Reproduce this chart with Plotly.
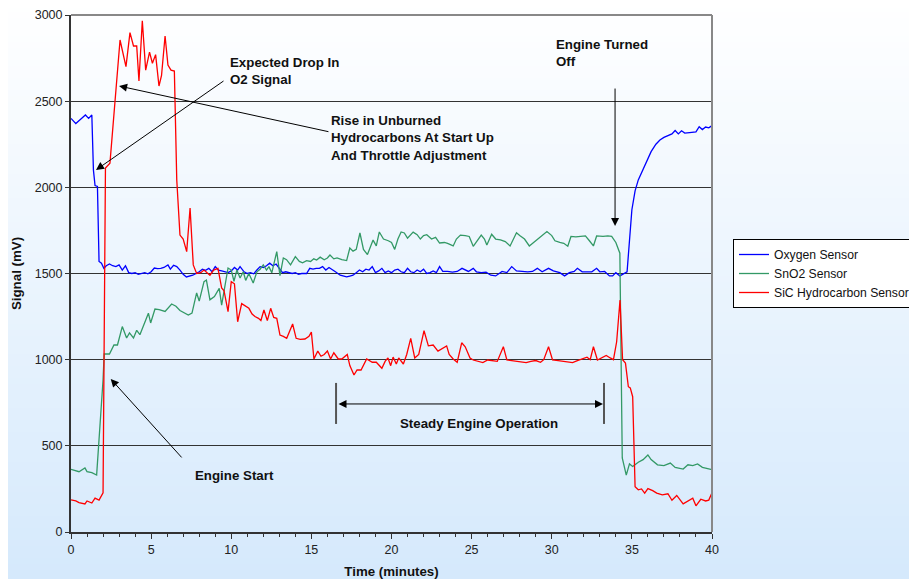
import plotly.graph_objects as go

# ---------------- data ----------------
t_oxy = [0, 0.3, 0.6, 0.9, 1.1, 1.3, 1.4, 1.5, 1.65, 1.75, 1.9, 2.05, 2.2, 2.4, 2.6, 2.8, 3.0, 3.2, 3.4, 3.6,
         3.8, 4.0, 4.2, 4.4, 4.6, 4.8, 5.0, 5.2, 5.4, 5.6, 5.8, 6.05, 6.2, 6.4, 6.6, 6.8, 7.0, 7.2, 7.4, 7.6,
         7.8, 8.0, 8.2, 8.4, 8.6, 8.8, 9.0, 9.2, 9.4, 9.6, 9.8, 10.0, 10.2, 10.4, 10.55, 10.8, 11.0, 11.2, 11.4, 11.6,
         11.8, 12.0, 12.2, 12.4, 12.6, 12.8, 13.0, 13.2, 13.4, 13.6, 13.8, 14.0, 14.2, 14.4, 14.7, 14.9, 15.1, 15.3, 15.5, 15.7,
         15.9, 16.1, 16.3, 16.5, 16.8, 17.0, 17.2, 17.4, 17.6, 17.8, 18.0, 18.2, 18.4, 18.6, 18.8, 19.0, 19.2, 19.4, 19.6, 19.8,
         20.0, 20.2, 20.4, 20.6, 20.8, 21.0, 21.2, 21.4, 21.6, 21.8, 22.0, 22.2, 22.4, 22.6, 22.8, 23.0, 23.2, 23.5, 23.8, 24.1,
         24.4, 24.8, 25.1, 25.3, 25.6, 25.9, 26.2, 26.5, 26.7, 26.9, 27.2, 27.5, 27.8, 28.2, 28.5, 28.8, 29.1, 29.4, 29.8, 30.1,
         30.3, 30.5, 30.8, 31.1, 31.4, 31.6, 31.9, 32.2, 32.5, 32.8, 33.0, 33.3, 33.6, 33.8, 34.0, 34.25, 34.55, 34.7, 35.0, 35.2,
         35.4, 35.8, 36.2, 36.5, 36.75, 37.0, 37.25, 37.5, 37.7, 37.9, 38.1, 38.3, 38.6, 39.0, 39.2, 39.4, 39.6, 39.8, 40.0]
v_oxy = [2400, 2370, 2395, 2420, 2400, 2420, 2100, 2010, 2005, 1570, 1560, 1530, 1545, 1555, 1545, 1540, 1550, 1520, 1545, 1505,
         1500, 1505, 1495, 1500, 1505, 1498, 1510, 1532, 1528, 1530, 1535, 1550, 1525, 1548, 1540, 1520, 1495, 1480, 1483, 1490,
         1500, 1510, 1525, 1518, 1530, 1510, 1540, 1520, 1515, 1510, 1505, 1515, 1535, 1520, 1540, 1510, 1500, 1505, 1498, 1520,
         1540, 1535, 1545, 1560, 1545, 1555, 1530, 1505, 1510, 1505, 1500, 1505, 1495, 1500, 1500, 1530, 1525, 1530, 1530, 1540,
         1520, 1535, 1520, 1510, 1490, 1483, 1480, 1485, 1490, 1505, 1520, 1510, 1525, 1520, 1540, 1505, 1515, 1530, 1505, 1515,
         1505, 1520, 1525, 1510, 1505, 1530, 1510, 1505, 1520, 1510, 1525, 1500, 1505, 1515, 1505, 1540, 1512, 1512, 1508, 1512,
         1530, 1512, 1530, 1510, 1505, 1508, 1490, 1486, 1500, 1512, 1505, 1540, 1515, 1512, 1510, 1512, 1530, 1510, 1530, 1515,
         1510, 1505, 1486, 1505, 1512, 1530, 1510, 1512, 1510, 1530, 1510, 1512, 1486, 1486, 1505, 1486, 1500, 1510, 1870, 1980,
         2043, 2130, 2207, 2250, 2275, 2290, 2300, 2310, 2330, 2310, 2328, 2315, 2318, 2322, 2352, 2335, 2350, 2345, 2358]

t_sno2 = [0, 0.3, 0.5, 0.87, 1.0, 1.3, 1.6, 2.0, 2.07, 2.4, 2.68, 2.9, 3.2, 3.47, 3.65, 3.9, 4.1, 4.3, 4.6, 4.83,
          4.97, 5.24, 5.5, 5.87, 6.28, 6.55, 6.8, 7.32, 7.55, 7.84, 8.0, 8.3, 8.45, 8.67, 8.95, 9.25, 9.4, 9.55, 9.8, 10.0,
          10.17, 10.35, 10.55, 10.75, 10.9, 11.1, 11.37, 11.6, 11.8, 12.0, 12.2, 12.35, 12.53, 12.84, 13.04, 13.25, 13.45, 13.7, 14.0, 14.25,
          14.45, 14.7, 14.95, 15.15, 15.33, 15.55, 15.8, 16.0, 16.16, 16.4, 16.6, 16.9, 17.2, 17.4, 17.6, 17.8, 18.03, 18.25, 18.5, 18.85,
          19.05, 19.24, 19.5, 19.8, 20.0, 20.2, 20.4, 20.6, 20.8, 21.0, 21.35, 21.6, 21.8, 22.0, 22.2, 22.5, 22.75, 23.0, 23.3, 23.5,
          23.85, 24.05, 24.3, 24.6, 24.85, 25.1, 25.35, 25.6, 25.8, 25.95, 26.25, 26.5, 26.8, 27.1, 27.4, 27.8, 28.0, 28.3, 28.6, 29.0,
          29.3, 29.7, 30.0, 30.2, 30.5, 30.75, 31.0, 31.2, 31.5, 31.8, 32.1, 32.35, 32.6, 32.8, 33.2, 33.5, 33.74, 34.0, 34.25, 34.4,
          34.65, 34.85, 35.05, 35.4, 35.7, 36.0, 36.2, 36.6, 37.0, 37.4, 37.7, 38.2, 38.5, 38.8, 39.1, 39.4, 39.7, 40.0]
v_sno2 = [364, 355, 350, 372, 350, 345, 331, 882, 1033, 1033, 1085, 1085, 1192, 1126, 1155, 1126, 1170, 1145, 1220, 1270,
          1213, 1294, 1290, 1280, 1323, 1310, 1285, 1259, 1270, 1387, 1340, 1453, 1462, 1347, 1366, 1414, 1317, 1405, 1532, 1520,
          1455, 1520, 1474, 1510, 1460, 1500, 1445, 1510, 1525, 1550, 1520, 1540, 1504, 1627, 1488, 1590, 1580, 1550, 1598, 1570,
          1562, 1575, 1570, 1585, 1578, 1595, 1580, 1590, 1607, 1585, 1590, 1580, 1575, 1648, 1630, 1640, 1735, 1640, 1610, 1694,
          1660, 1741, 1700, 1690, 1680, 1640, 1700, 1741, 1735, 1705, 1740, 1725, 1700, 1720, 1725, 1700, 1710, 1677, 1680, 1675,
          1660, 1700, 1723, 1720, 1715, 1658, 1690, 1723, 1700, 1665, 1728, 1700, 1695, 1685, 1660, 1736, 1720, 1700, 1660, 1690,
          1715, 1743, 1720, 1690, 1680, 1675, 1658, 1715, 1712, 1715, 1718, 1690, 1660, 1718, 1715, 1718, 1716, 1680, 1618, 430,
          330, 395, 380, 405, 420, 447, 420, 390, 385, 400, 375, 365, 390, 385, 395, 375, 370, 362]

t_sic = [0, 0.3, 0.5, 0.87, 1.0, 1.3, 1.5, 1.75, 2.0, 2.15, 2.43, 2.75, 3.06, 3.43, 3.68, 3.9, 4.1, 4.24, 4.45, 4.66,
         4.9, 5.08, 5.28, 5.49, 5.65, 5.87, 6.05, 6.24, 6.45, 6.6, 6.8, 7.0, 7.22, 7.43, 7.63, 7.84, 8.1, 8.3, 8.67, 8.9,
         9.17, 9.4, 9.55, 9.8, 10.0, 10.2, 10.4, 10.65, 10.9, 11.1, 11.3, 11.48, 11.7, 11.85, 12.04, 12.25, 12.46, 12.65, 12.84, 13.04,
         13.25, 13.46, 13.83, 14.05, 14.3, 14.6, 14.85, 15.0, 15.16, 15.4, 15.6, 15.8, 16.0, 16.2, 16.4, 16.68, 16.9, 17.24, 17.4, 17.66,
         17.85, 18.1, 18.45, 18.8, 19.05, 19.4, 19.6, 19.78, 19.95, 20.1, 20.3, 20.45, 20.74, 20.95, 21.2, 21.45, 21.7, 22.03, 22.3, 22.6,
         22.9, 23.2, 23.44, 23.6, 23.85, 24.1, 24.38, 24.6, 24.9, 25.1, 25.4, 25.7, 26.0, 26.3, 26.6, 26.98, 27.2, 27.5, 27.8, 28.1,
         28.4, 28.7, 29.0, 29.3, 29.5, 29.8, 30.05, 30.4, 30.7, 31.0, 31.3, 31.6, 31.9, 32.2, 32.4, 32.6, 32.85, 33.1, 33.4, 33.65,
         33.85, 34.05, 34.26, 34.42, 34.6, 34.78, 34.9, 35.05, 35.2, 35.4, 35.6, 35.8, 36.0, 36.3, 36.55, 36.9, 37.25, 37.5, 37.8, 38.2,
         38.5, 38.8, 39.0, 39.3, 39.6, 39.8, 40.0]
v_sic = [186, 180, 171, 163, 180, 168, 197, 185, 228, 2112, 2140, 2507, 2855, 2700, 2898, 2820, 2820, 2617, 2967, 2680,
         2785, 2720, 2770, 2588, 2650, 2878, 2710, 2680, 2675, 2043, 1723, 1700, 1627, 1880, 1550, 1500, 1505, 1520, 1490, 1520,
         1530, 1416, 1400, 1279, 1453, 1440, 1220, 1325, 1310, 1298, 1265, 1250, 1240, 1227, 1288, 1227, 1298, 1245, 1240, 1143,
         1135, 1124, 1207, 1124, 1118, 1120, 1135, 1160, 1004, 1050, 1020, 1030, 1050, 1004, 1040, 1004, 1004, 1030, 966, 911,
         940, 940, 1004, 985, 985, 950, 990, 1010, 965, 1015, 975, 1010, 975, 1030, 1124, 1010, 1030, 1168, 1080, 1085,
         1050, 1065, 1080, 1030, 1004, 985, 1098, 1075, 1010, 998, 990, 983, 998, 995, 990, 1075, 998, 995, 992, 985,
         983, 990, 995, 985, 1000, 1075, 998, 995, 990, 988, 983, 995, 1005, 1014, 1000, 1075, 998, 1010, 1024, 1010,
         1000, 1104, 1346, 1000, 980, 843, 836, 785, 263, 245, 250, 226, 252, 240, 226, 215, 222, 184, 212, 163,
         180, 196, 152, 190, 180, 185, 228]

series_names = ["Oxygen Sensor", "SnO2 Sensor", "SiC Hydrocarbon Sensor"]
x_ticks = [0, 5, 10, 15, 20, 25, 30, 35, 40]
y_ticks = [0, 500, 1000, 1500, 2000, 2500, 3000]

FONT = "Arial, Liberation Sans, sans-serif"
FS = 13.3

fig = go.Figure()
fig.add_trace(go.Scatter(x=t_oxy, y=v_oxy, mode="lines", name=series_names[0],
                         line=dict(color="#0000ff", width=1.3)))
fig.add_trace(go.Scatter(x=t_sno2, y=v_sno2, mode="lines", name=series_names[1],
                         line=dict(color="#339966", width=1.3)))
fig.add_trace(go.Scatter(x=t_sic, y=v_sic, mode="lines", name=series_names[2],
                         line=dict(color="#ff0000", width=1.3)))

# page body has an 8px margin: figure is sized so it fills the window exactly
OFF = 8
W, H = 917 - OFF, 579 - OFF
L, R, T, B = 71 - OFF, 712 - OFF, 15 - OFF, 532 - OFF
shapes = []
step = 6
for py in range(-OFF, H, step):
    f = (py + OFF + step / 2) / 579
    r = round(255 + (213 - 255) * f)
    g = round(255 + (233 - 255) * f)
    b = round(255 + (252 - 255) * f)
    shapes.append(dict(type="rect", xref="paper", yref="paper", layer="below",
                       x0=-L / (R - L) - 0.01, x1=(W - L) / (R - L) + 0.01,
                       y0=(B - (py + step + 1)) / (B - T), y1=(B - py) / (B - T),
                       line=dict(width=0), fillcolor=f"rgb({r},{g},{b})"))
# top/right frame
shapes.append(dict(type="line", xref="paper", yref="paper", x0=0, x1=1, y0=1, y1=1,
                   line=dict(color="#888888", width=2)))
shapes.append(dict(type="line", xref="paper", yref="paper", x0=1, x1=1, y0=0, y1=1,
                   line=dict(color="#888888", width=2)))
# bars of the steady-operation span
for xb in (16.54, 33.26):
    shapes.append(dict(type="line", xref="x", yref="y", x0=xb, x1=xb, y0=627, y1=865,
                       line=dict(color="#555555", width=2)))

ann = []
arrow_kw = dict(showarrow=True, arrowhead=2, arrowsize=1.6, arrowwidth=1, arrowcolor="black",
                axref="x", ayref="y", text="", xref="x", yref="y")
ann.append(dict(x=1.56, y=2101, ax=9.61, ay=2623, **arrow_kw))
ann.append(dict(x=3.0, y=2588, ax=16.16, ay=2321, **arrow_kw))
ann.append(dict(x=33.95, y=1775, ax=33.95, ay=2582, **arrow_kw))
ann.append(dict(x=2.48, y=888, ax=6.99, ay=424, **arrow_kw))
ann.append(dict(x=33.2, y=743, ax=16.6, ay=743, arrowside="end+start", **arrow_kw))

txt_kw = dict(showarrow=False, xref="x", yref="y", xanchor="left", align="left",
              font=dict(family=FONT, size=FS, color="#111111"))
ann.append(dict(x=9.82, y=2778, yanchor="top", text="<b>Expected Drop In<br>O2 Signal</b>", **txt_kw))
ann.append(dict(x=16.12, y=2442, yanchor="top",
                text="<b>Rise in Unburned<br>Hydrocarbons At Start Up<br>And Throttle Adjustment</b>", **txt_kw))
ann.append(dict(x=30.17, y=2882, yanchor="top", text="<b>Engine Turned<br>Off</b>", **txt_kw))
ann.append(dict(x=20.43, y=627, yanchor="middle", text="<b>Steady Engine Operation</b>", **txt_kw))
ann.append(dict(x=7.64, y=325, yanchor="middle", text="<b>Engine Start</b>", **txt_kw))

fig.update_layout(
    width=W, height=H,
    margin=dict(l=L, r=W - R, t=T, b=H - B, pad=0, autoexpand=False),
    paper_bgcolor="white", plot_bgcolor="rgba(0,0,0,0)",
    font=dict(family=FONT, size=12, color="#222222"),
    shapes=shapes, annotations=ann,
    showlegend=True,
    legend=dict(x=(733 - OFF - L) / (R - L), y=(B - (239 - OFF)) / (B - T), xanchor="left", yanchor="top",
                bgcolor="white", bordercolor="black", borderwidth=1,
                font=dict(family=FONT, size=12.2, color="#111111"),
                tracegroupgap=0, itemwidth=30),
    xaxis=dict(range=[0, 40], tickvals=x_ticks, ticktext=[str(v) for v in x_ticks],
               ticks="outside", ticklen=5, tickcolor="#333333", showgrid=False, zeroline=False,
               showline=True, linecolor="#333333", linewidth=2, automargin=False,
               minor=dict(dtick=1, ticks="outside", ticklen=3, tickcolor="#333333", showgrid=False),
               title=dict(text="<b>Time (minutes)</b>", font=dict(size=FS, family=FONT, color="#111111"), standoff=11),
               tickfont=dict(size=12.5, family=FONT, color="#222222")),
    yaxis=dict(range=[0, 3000], tickvals=y_ticks, ticktext=[str(v) for v in y_ticks],
               ticks="outside", ticklen=4, tickcolor="#333333",
               showgrid=True, gridcolor="#333333", gridwidth=1.3, zeroline=False,
               showline=True, linecolor="#333333", linewidth=2, automargin=False,
               title=dict(text="<b>Signal (mV)</b>", font=dict(size=FS, family=FONT, color="#111111"), standoff=10),
               tickfont=dict(size=12.5, family=FONT, color="#222222")),
)

fig.write_html("out.html")
